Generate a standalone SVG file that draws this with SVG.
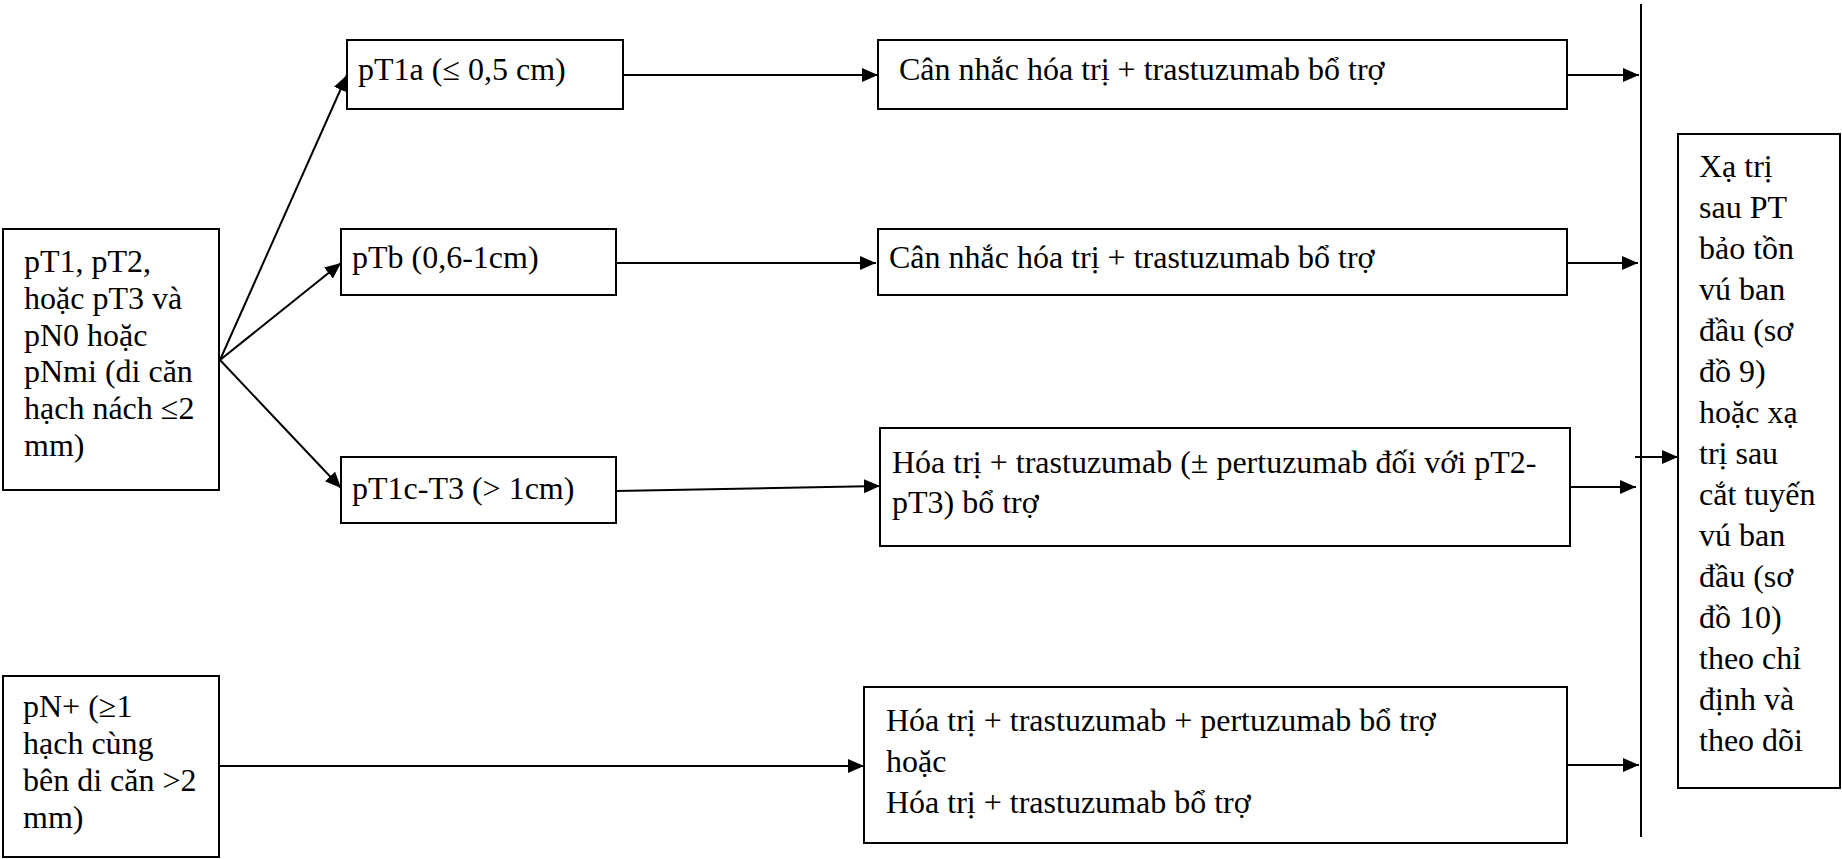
<svg xmlns="http://www.w3.org/2000/svg" width="1842" height="859" viewBox="0 0 1842 859">
<style>
  .box { fill: #ffffff; stroke: #000000; stroke-width: 2; }
  .t { font-family: "Liberation Serif", "Times New Roman", serif; font-size: 32px; fill: #000000; }
  .ln { fill: none; stroke: #000000; stroke-width: 2; }
</style>
<defs>
  <marker id="arr" markerUnits="userSpaceOnUse" markerWidth="18" markerHeight="16" refX="16" refY="7" orient="auto">
    <path d="M0,0 L16,7 L0,14 z" fill="#000000"/>
  </marker>
</defs>
<rect x="0" y="0" width="1842" height="859" fill="#ffffff"/>

<g id="connectors">
  <line class="ln" x1="220" y1="360" x2="347" y2="75" marker-end="url(#arr)"/>
  <line class="ln" x1="220" y1="360" x2="341" y2="263" marker-end="url(#arr)"/>
  <line class="ln" x1="220" y1="360" x2="341" y2="488" marker-end="url(#arr)"/>
  <line class="ln" x1="623" y1="75" x2="878" y2="75" marker-end="url(#arr)"/>
  <line class="ln" x1="616" y1="263" x2="876" y2="263" marker-end="url(#arr)"/>
  <line class="ln" x1="616" y1="491" x2="880" y2="486" marker-end="url(#arr)"/>
  <line class="ln" x1="219" y1="766" x2="864" y2="766" marker-end="url(#arr)"/>
  <line class="ln" x1="1567" y1="75" x2="1639" y2="75" marker-end="url(#arr)"/>
  <line class="ln" x1="1567" y1="263" x2="1638" y2="263" marker-end="url(#arr)"/>
  <line class="ln" x1="1570" y1="487" x2="1636" y2="487" marker-end="url(#arr)"/>
  <line class="ln" x1="1567" y1="765" x2="1639" y2="765" marker-end="url(#arr)"/>
  <line class="ln" x1="1641" y1="4" x2="1641" y2="837"/>
  <line class="ln" x1="1635" y1="457" x2="1678" y2="457" marker-end="url(#arr)"/>
</g>

<g id="n-left">
  <rect class="box" x="3" y="229" width="216" height="261"/>
  <text class="t" x="24" y="272">pT1, pT2,</text>
  <text class="t" x="24" y="309">hoặc pT3 và</text>
  <text class="t" x="24" y="346">pN0 hoặc</text>
  <text class="t" x="24" y="382">pNmi (di căn</text>
  <text class="t" x="24" y="419">hạch nách ≤2</text>
  <text class="t" x="24" y="456">mm)</text>
</g>

<g id="n-pt1a">
  <rect class="box" x="347" y="40" width="276" height="69"/>
  <text class="t" x="358" y="80">pT1a (≤ 0,5 cm)</text>
</g>

<g id="n-ptb">
  <rect class="box" x="341" y="229" width="275" height="66"/>
  <text class="t" x="352" y="268">pTb (0,6-1cm)</text>
</g>

<g id="n-pt1c">
  <rect class="box" x="341" y="457" width="275" height="66"/>
  <text class="t" x="352" y="499">pT1c-T3 (&gt; 1cm)</text>
</g>

<g id="n-pn">
  <rect class="box" x="3" y="676" width="216" height="181"/>
  <text class="t" x="23" y="717">pN+ (≥1</text>
  <text class="t" x="23" y="754">hạch cùng</text>
  <text class="t" x="23" y="791">bên di căn &gt;2</text>
  <text class="t" x="23" y="828">mm)</text>
</g>

<g id="n-a">
  <rect class="box" x="878" y="40" width="689" height="69"/>
  <text class="t" x="899" y="80">Cân nhắc hóa trị + trastuzumab bổ trợ</text>
</g>

<g id="n-b">
  <rect class="box" x="878" y="229" width="689" height="66"/>
  <text class="t" x="889" y="268">Cân nhắc hóa trị + trastuzumab bổ trợ</text>
</g>

<g id="n-c">
  <rect class="box" x="880" y="428" width="690" height="118"/>
  <text class="t" x="892" y="473">Hóa trị + trastuzumab (± pertuzumab đối với pT2-</text>
  <text class="t" x="892" y="513">pT3) bổ trợ</text>
</g>

<g id="n-d">
  <rect class="box" x="864" y="687" width="703" height="156"/>
  <text class="t" x="886" y="731">Hóa trị + trastuzumab + pertuzumab bổ trợ</text>
  <text class="t" x="886" y="772">hoặc</text>
  <text class="t" x="886" y="813">Hóa trị + trastuzumab bổ trợ</text>
</g>

<g id="n-right">
  <rect class="box" x="1678" y="134" width="162" height="654"/>
  <text class="t" x="1699" y="177">Xạ trị</text>
  <text class="t" x="1699" y="218">sau PT</text>
  <text class="t" x="1699" y="259">bảo tồn</text>
  <text class="t" x="1699" y="300">vú ban</text>
  <text class="t" x="1699" y="341">đầu (sơ</text>
  <text class="t" x="1699" y="382">đồ 9)</text>
  <text class="t" x="1699" y="423">hoặc xạ</text>
  <text class="t" x="1699" y="464">trị sau</text>
  <text class="t" x="1699" y="505">cắt tuyến</text>
  <text class="t" x="1699" y="546">vú ban</text>
  <text class="t" x="1699" y="587">đầu (sơ</text>
  <text class="t" x="1699" y="628">đồ 10)</text>
  <text class="t" x="1699" y="669">theo chỉ</text>
  <text class="t" x="1699" y="710">định và</text>
  <text class="t" x="1699" y="751">theo dõi</text>
</g>
</svg>
